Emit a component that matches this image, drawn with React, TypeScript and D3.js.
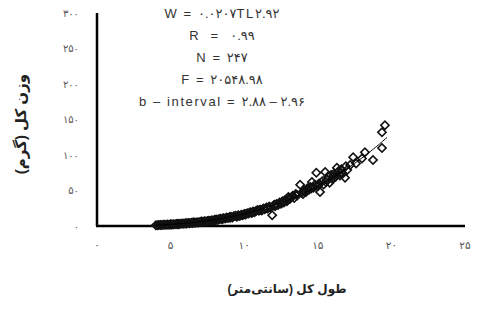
import React, { useEffect, useRef } from 'react';
import * as d3 from 'd3';

// total length (cm) and total weight (g)
const lengths = [
  4.0, 4.1, 4.2, 4.3, 4.4, 4.5, 4.6, 4.7, 4.8, 4.9, 5.0, 5.05, 5.1, 5.2, 5.3, 5.4, 5.5, 5.5, 5.6, 5.7, 5.8, 5.9,
  6.0, 6.05, 6.1, 6.2, 6.3, 6.4, 6.5, 6.55, 6.6, 6.7, 6.8, 6.9, 7.0, 7.05, 7.1, 7.2, 7.3, 7.4, 7.5, 7.55, 7.6, 7.7, 7.8, 7.9,
  8.0, 8.05, 8.1, 8.2, 8.3, 8.4, 8.5, 8.55, 8.6, 8.7, 8.8, 8.9, 9.0, 9.05, 9.1, 9.2, 9.3, 9.4, 9.5, 9.55, 9.6, 9.7, 9.8, 9.9,
  10.0, 10.05, 10.1, 10.2, 10.3, 10.4, 10.5, 10.55, 10.6, 10.7, 10.8, 10.9, 11.0, 11.05, 11.1, 11.2, 11.3, 11.4, 11.5, 11.55,
  11.6, 11.7, 11.8, 11.9, 12.0, 12.05, 12.1, 12.2, 12.3, 12.4, 12.5, 12.55, 12.6, 12.7, 12.8, 12.9, 13.0, 13.05, 13.1, 13.2,
  13.3, 13.4, 13.5, 13.55, 13.6, 13.8, 13.9, 14.0, 14.05, 14.1, 14.2, 14.3, 14.4, 14.5, 14.55, 14.6, 14.7, 14.8, 14.9, 15.0,
  15.05, 15.1, 15.15, 15.3, 15.4, 15.5, 15.55, 15.6, 15.7, 15.8, 15.9, 16.0, 16.05, 16.1, 16.2, 16.3, 16.4, 16.5, 16.55, 16.6,
  16.7, 16.85, 16.9, 17.0, 17.2, 17.4, 17.6, 18.0, 18.2, 18.75, 19.36, 19.36, 19.56,
];
const weights = [
  1.2, 1.0, 1.4, 1.3, 1.5, 1.6, 1.8, 1.7, 2.0, 1.9, 2.3, 2.0, 2.2, 2.6, 2.4, 2.9, 3.0, 2.5, 2.8, 3.3, 3.5, 3.2,
  3.9, 3.5, 3.7, 4.2, 4.0, 4.6, 4.4, 4.8, 5.0, 4.7, 5.4, 5.1, 5.8, 5.5, 6.2, 5.9, 6.6, 6.3, 7.0, 6.6, 7.4, 6.9, 8.0, 7.6,
  8.8, 8.2, 9.3, 8.6, 9.8, 10.2, 9.5, 10.5, 11.0, 10.4, 11.8, 11.2, 12.5, 11.8, 13.1, 12.0, 13.8, 14.5, 13.2, 14.0, 15.0, 14.2, 16.0, 15.3,
  17.0, 16.5, 16.2, 18.0, 17.5, 19.2, 18.4, 19.0, 20.5, 19.5, 21.0, 22.4, 21.5, 22.5, 23.0, 22.0, 24.5, 23.5, 26.0, 25.0,
  24.8, 27.5, 26.2, 15.0, 29.0, 30.0, 27.8, 31.0, 29.5, 33.0, 31.5, 32.5, 35.0, 33.2, 37.0, 35.0, 41.0, 39.0, 38.0, 40.5,
  42.5, 39.5, 45.0, 44.0, 43.0, 58.0, 47.0, 45.0, 49.0, 50.0, 48.0, 53.0, 51.0, 55.0, 53.0, 62.0, 54.0, 58.0, 75.0, 56.0,
  59.0, 60.0, 48.0, 63.0, 58.5, 76.0, 62.0, 65.0, 70.0, 61.0, 72.0, 66.0, 70.0, 74.0, 69.0, 82.0, 77.0, 71.0, 75.0, 80.0,
  74.0, 68.0, 84.0, 79.0, 86.0, 97.0, 88.0, 95.0, 104.0, 93.0, 110.0, 132.0, 142.0,
];

// fitted power curve W = a * TL^b, as stated on the chart
const fitA = 0.0207;
const fitB = 2.92;

const xTicks = [0, 5, 10, 15, 20, 25];
const yTicks = [0, 50, 100, 150, 200, 250, 300];

const statLines = [
  'W = ۰.۰۲۰۷TL۲.۹۲',
  'R  =  ۰.۹۹',
  'N = ۲۴۷',
  'F = ۲۰۵۴۸.۹۸',
  'b \u2013 interval = ۲.۸۸\u00A0\u2013\u00A0۲.۹۶',
];

const xTitle = 'طول کل (سانتی‌متر)';
const yTitle = 'وزن کل (گرم)';

const toFa = (n: number) => String(n).replace(/\d/g, (d) => '۰۱۲۳۴۵۶۷۸۹'[+d]);

const W = 479;
const H = 310;
const font = '"Liberation Sans", "DejaVu Sans", Arial, sans-serif';

export default function App() {
  const ref = useRef<SVGSVGElement>(null);

  useEffect(() => {
    if (!ref.current) return;
    const svg = d3.select(ref.current);
    svg.selectAll('*').remove();

    const x = d3.scaleLinear().domain([0, 25]).range([97, 465]);
    const y = d3.scaleLinear().domain([0, 300]).range([226, 13]);

    // axes
    svg.append('line')
      .attr('x1', x(0)).attr('x2', x(0))
      .attr('y1', y(300)).attr('y2', y(0))
      .attr('stroke', '#000').attr('stroke-width', 2.5);
    svg.append('line')
      .attr('x1', x(0) - 1).attr('x2', x(25))
      .attr('y1', y(0)).attr('y2', y(0))
      .attr('stroke', '#000').attr('stroke-width', 2.5);

    svg.append('g').selectAll('text')
      .data(yTicks)
      .join('text')
      .attr('x', 79)
      .attr('y', (d) => y(d))
      .attr('dy', '0.35em')
      .attr('text-anchor', 'end')
      .attr('font-family', font)
      .attr('font-size', 10)
      .attr('letter-spacing', 1.5)
      .attr('fill', '#555')
      .text((d) => toFa(d));

    svg.append('g').selectAll('text')
      .data(xTicks)
      .join('text')
      .attr('x', (d) => x(d))
      .attr('y', 249)
      .attr('text-anchor', 'middle')
      .attr('font-family', font)
      .attr('font-size', 10.5)
      .attr('letter-spacing', 1)
      .attr('fill', '#555')
      .text((d) => toFa(d));

    // points
    const diamond = d3.symbol(d3.symbolSquare, 34)();
    svg.append('g').selectAll('path')
      .data(d3.range(lengths.length))
      .join('path')
      .attr('d', diamond)
      .attr('transform', (i) => `translate(${x(lengths[i])},${y(weights[i])}) rotate(45)`)
      .attr('fill', 'none')
      .attr('stroke', '#111')
      .attr('stroke-width', 1.6);

    // fitted curve
    const curveX = d3.range(4, 19.8, 0.1);
    svg.append('path')
      .datum(curveX)
      .attr('d', d3.line<number>().x((d) => x(d)).y((d) => y(fitA * Math.pow(d, fitB))))
      .attr('fill', 'none')
      .attr('stroke', '#000')
      .attr('stroke-width', 1);

    // stats block (kept in logical order, left to right)
    svg.append('g').selectAll('text')
      .data(statLines)
      .join('text')
      .attr('x', 222)
      .attr('y', (_, i) => 18 + i * 22)
      .attr('text-anchor', 'middle')
      .style('direction', 'ltr')
      .style('unicode-bidi', 'bidi-override')
      .style('white-space', 'pre')
      .attr('font-family', font)
      .attr('font-size', 13)
      .attr('letter-spacing', 1.6)
      .attr('fill', '#333')
      .text((d) => d);

    // titles
    svg.append('text')
      .attr('x', 287)
      .attr('y', 293)
      .attr('text-anchor', 'middle')
      .attr('font-family', font)
      .attr('font-size', 12)
      .attr('font-weight', 'bold')
      .attr('fill', '#222')
      .text(xTitle);

    svg.append('text')
      .attr('transform', 'translate(26,124) rotate(-90)')
      .attr('text-anchor', 'middle')
      .attr('font-family', font)
      .attr('font-size', 15)
      .attr('font-weight', 'bold')
      .attr('letter-spacing', 1)
      .attr('fill', '#222')
      .text(yTitle);
  }, []);

  return (
    <svg
      ref={ref}
      width={W}
      height={H}
      viewBox={`0 0 ${W} ${H}`}
      style={{ position: 'absolute', left: 0, top: 0, background: '#fff' }}
    />
  );
}
